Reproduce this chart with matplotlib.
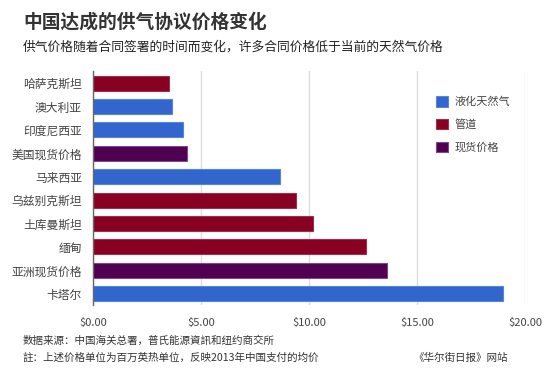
import matplotlib
matplotlib.use("Agg")
import matplotlib.pyplot as plt
from matplotlib.patches import Patch

plt.rcParams['font.family'] = ['Noto Sans CJK SC', 'DejaVu Sans']

# 数据 (美元/百万英热单位)
countries = ["哈萨克斯坦", "澳大利亚", "印度尼西亚", "美国现货价格", "马来西亚",
             "乌兹别克斯坦", "土库曼斯坦", "缅甸", "亚洲现货价格", "卡塔尔"]
prices = [3.53, 3.64, 4.15, 4.35, 8.67, 9.40, 10.17, 12.62, 13.59, 19.0]
kinds = ["管道", "液化天然气", "液化天然气", "现货价格", "液化天然气",
         "管道", "管道", "管道", "现货价格", "液化天然气"]
legend_names = ["液化天然气", "管道", "现货价格"]
xticks = [0, 5, 10, 15, 20]

colors = {"液化天然气": "#3366cc", "管道": "#880022", "现货价格": "#500050"}
edges = {"液化天然气": "#5585dd", "管道": "#9b3050", "现货价格": "#7a4a90"}

fig = plt.figure(figsize=(5.58, 3.78), dpi=100)
W, H = 558, 378
ax = fig.add_axes([93 / W, 1 - 305.4 / H, (525 - 93) / W, (305.4 - 71.5) / H])

ypos = list(range(len(countries)))
ax.barh(ypos, prices, height=0.64,
        color=[colors[k] for k in kinds],
        edgecolor=[edges[k] for k in kinds], linewidth=0.8, zorder=3)

ax.set_ylim(len(countries) - 0.5, -0.5)
ax.set_xlim(0, 20)
ax.set_yticks(ypos)
ax.set_yticklabels(countries, fontsize=8.5, color="#444444")
ax.set_xticks(xticks)
ax.set_xticklabels(["$%.2f" % v for v in xticks], fontsize=8, color="#444444")
ax.tick_params(axis="both", length=0, pad=8)
ax.tick_params(axis="x", pad=9)

ax.grid(axis="x", color="#dddddd", linewidth=1, zorder=0)
for s in ["top", "right", "bottom"]:
    ax.spines[s].set_visible(False)
ax.spines["left"].set_color("#666666")
ax.spines["left"].set_linewidth(1)
ax.spines["left"].set_zorder(4)

handles = [Patch(facecolor=colors[n], edgecolor=edges[n], linewidth=0.8) for n in legend_names]
leg = ax.legend(handles, legend_names, loc="upper left",
                bbox_to_anchor=((436 - 93) / (525 - 93), 1 - (96.5 - 71.5) / (305.4 - 71.5)),
                frameon=False, fontsize=8, handlelength=1.05, handleheight=1.05,
                handletextpad=0.65, labelspacing=1.05, borderaxespad=0, borderpad=0)
for t in leg.get_texts():
    t.set_color("#444444")

fig.text(23 / W, 1 - 22 / H, "中国达成的供气协议价格变化", fontsize=13.5,
         fontweight="bold", color="#333333", va="center")
fig.text(23 / W, 1 - 47 / H, "供气价格随着合同签署的时间而变化，许多合同价格低于当前的天然气价格",
         fontsize=9.2, color="#222222", va="center")
fig.text(23 / W, 1 - 341 / H, "数据来源：中国海关总署，普氏能源資訊和纽约商交所",
         fontsize=7.6, color="#333333", va="center")
fig.text(23 / W, 1 - 358 / H, "註：上述价格单位为百万英热单位，反映2013年中国支付的均价",
         fontsize=7.6, color="#333333", va="center")
fig.text(508 / W, 1 - 358 / H, "《华尔街日报》网站",
         fontsize=7.6, color="#333333", va="center", ha="right")

fig.savefig("out.png", dpi=100, facecolor="white")
